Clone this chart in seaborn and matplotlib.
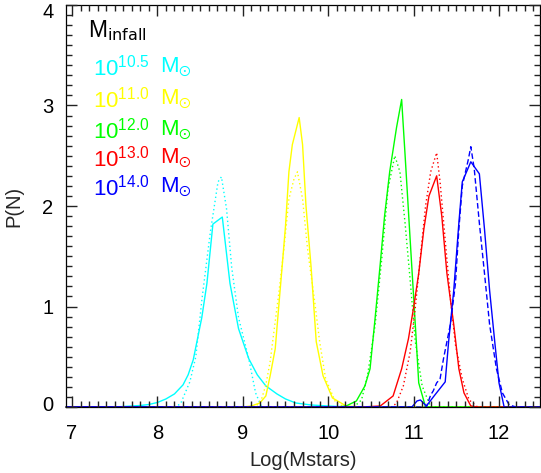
import matplotlib
matplotlib.use("Agg")
import matplotlib.pyplot as plt
from matplotlib.ticker import MultipleLocator
import matplotlib.transforms as mtransforms
import seaborn as sns
import pandas as pd

# ---------------- data ----------------
cyan_solid_x = [6.93, 7.5, 7.6, 7.8, 7.9, 8.0, 8.1, 8.2, 8.3, 8.36, 8.42, 8.52, 8.58, 8.65, 8.76,
                8.85, 8.95, 9.07, 9.17, 9.27, 9.4, 9.5, 9.62, 9.8, 10.0, 10.25, 12.48]
cyan_solid_y = [0, 0, 0.005, 0.015, 0.025, 0.045, 0.08, 0.13, 0.22, 0.32, 0.47, 0.89, 1.23, 1.82, 1.89,
                1.23, 0.78, 0.48, 0.32, 0.21, 0.13, 0.08, 0.04, 0.02, 0.01, 0, 0]
cyan_dot_x = [6.93, 8.2, 8.27, 8.38, 8.45, 8.52, 8.62, 8.71, 8.75, 8.81, 8.87, 8.95, 9.07, 9.15, 9.22, 12.48]
cyan_dot_y = [0, 0, 0.03, 0.25, 0.5, 1.06, 1.74, 2.24, 2.29, 1.97, 1.39, 0.89, 0.48, 0.14, 0, 0]

yellow_solid_x = [6.93, 9.0, 9.1, 9.2, 9.27, 9.32, 9.38, 9.42, 9.46, 9.50, 9.54, 9.58, 9.66, 9.70,
                  9.74, 9.80, 9.86, 9.94, 10.05, 10.21, 10.4, 12.48]
yellow_solid_y = [0, 0, 0.01, 0.04, 0.11, 0.31, 0.58, 0.99, 1.39, 1.80, 2.34, 2.61, 2.88, 2.61,
                  2.0, 1.39, 0.65, 0.31, 0.09, 0.01, 0, 0]
yellow_dot_x = [6.93, 9.15, 9.22, 9.27, 9.32, 9.36, 9.42, 9.48, 9.54, 9.60, 9.64, 9.70, 9.76, 9.84,
                9.90, 9.97, 10.09, 10.2, 12.48]
yellow_dot_y = [0, 0, 0.08, 0.22, 0.45, 0.72, 1.12, 1.56, 2.07, 2.27, 2.34, 2.07, 1.56, 1.06,
                0.65, 0.28, 0.04, 0, 0]

green_solid_x = [6.93, 10.1, 10.21, 10.33, 10.43, 10.49, 10.55, 10.61, 10.66, 10.72, 10.80, 10.86,
                 10.90, 10.96, 11.02, 11.06, 11.14, 12.48]
green_solid_y = [0, 0, 0.01, 0.06, 0.21, 0.38, 0.89, 1.43, 1.90, 2.34, 2.78, 3.06,
                 2.51, 1.66, 0.82, 0.24, 0, 0]
green_dot_x = [6.93, 10.3, 10.39, 10.46, 10.55, 10.63, 10.70, 10.78, 10.84, 10.90, 10.96, 11.02,
               11.10, 11.20, 12.48]
green_dot_y = [0, 0, 0.07, 0.31, 0.82, 1.50, 2.17, 2.50, 2.34, 1.83, 1.26, 0.65, 0.21, 0, 0]

red_solid_x = [6.93, 10.4, 10.61, 10.76, 10.86, 10.94, 11.00, 11.06, 11.12, 11.18, 11.27, 11.33,
               11.39, 11.47, 11.53, 11.59, 11.67, 11.75, 12.48]
red_solid_y = [0, 0, 0.01, 0.11, 0.38, 0.68, 0.99, 1.33, 1.77, 2.10, 2.30, 1.90,
               1.33, 0.82, 0.38, 0.14, 0.01, 0, 0]
red_dot_x = [6.93, 10.75, 10.80, 10.88, 10.96, 11.02, 11.08, 11.14, 11.20, 11.27, 11.31, 11.37,
             11.43, 11.49, 11.57, 11.65, 11.75, 12.48]
red_dot_y = [0, 0, 0.04, 0.21, 0.55, 0.99, 1.50, 2.0, 2.34, 2.53, 2.24, 1.66,
             1.09, 0.62, 0.28, 0.07, 0, 0]

blue_solid_x = [6.93, 10.98, 11.04, 11.08, 11.15, 11.24, 11.37, 11.41, 11.47, 11.53, 11.57, 11.67,
                11.77, 11.83, 11.89, 11.95, 12.00, 12.06, 12.48]
blue_solid_y = [0, 0, 0.06, 0.07, 0.01, 0.11, 0.25, 0.65, 1.16, 1.83, 2.24, 2.44,
                2.32, 1.77, 1.16, 0.65, 0.24, 0, 0]
blue_dash_x = [6.93, 11.15, 11.20, 11.23, 11.27, 11.31, 11.35, 11.43, 11.49, 11.53, 11.57, 11.64,
               11.67, 11.71, 11.77, 11.83, 11.89, 11.97, 12.04, 12.12, 12.2, 12.48]
blue_dash_y = [0, 0, 0.12, 0.16, 0.24, 0.28, 0.48, 0.82, 1.23, 1.77, 2.20, 2.46,
               2.59, 2.37, 1.83, 1.33, 0.82, 0.38, 0.14, 0.02, 0, 0]

legend_labels = ["10.5", "11.0", "12.0", "13.0", "14.0"]
colors = ["#00ffff", "#ffff00", "#00ff00", "#ff0000", "#0000ff"]

x_ticks = [7, 8, 9, 10, 11, 12]
y_ticks = [0, 1, 2, 3, 4]

# ---------------- style ----------------
sns.set_theme(style="white")
plt.rcParams["font.family"] = ["Liberation Sans", "DejaVu Sans"]
plt.rcParams["mathtext.fontset"] = "dejavusans"
plt.rcParams["mathtext.default"] = "regular"

fig = plt.figure(figsize=(5.41, 4.73), dpi=100)
ax = fig.add_axes([66 / 541, 66 / 473, 474 / 541, 402 / 473])

series = [
    (cyan_solid_x, cyan_solid_y, colors[0], "-"),
    (cyan_dot_x, cyan_dot_y, colors[0], (0, (1, 2))),
    (yellow_solid_x, yellow_solid_y, colors[1], "-"),
    (yellow_dot_x, yellow_dot_y, colors[1], (0, (1, 2))),
    (green_solid_x, green_solid_y, colors[2], "-"),
    (green_dot_x, green_dot_y, colors[2], (0, (1, 2))),
    (red_solid_x, red_solid_y, colors[3], "-"),
    (red_dot_x, red_dot_y, colors[3], (0, (1, 2))),
    (blue_solid_x, blue_solid_y, colors[4], "-"),
    (blue_dash_x, blue_dash_y, colors[4], (0, (4, 2))),
]
for xs, ys, c, ls in series:
    df = pd.DataFrame({"x": xs, "y": ys})
    sns.lineplot(data=df, x="x", y="y", color=c, linestyle=ls, linewidth=1.0,
                 estimator=None, sort=False, ax=ax, legend=False, clip_on=False)

ax.set_xlim(6.93, 12.48)
ax.set_ylim(0, 4)
ax.set_xticks(x_ticks)
ax.set_yticks(y_ticks)
ax.xaxis.set_minor_locator(MultipleLocator(0.1))
ax.yaxis.set_minor_locator(MultipleLocator(0.1))
ax.set_axisbelow(False)
for axis in (ax.xaxis, ax.yaxis):
    axis.set_tick_params(which="major", direction="in", length=8, width=1.0,
                         color="#222222", bottom=True, top=True, left=True, right=True)
    axis.set_tick_params(which="minor", direction="in", length=4, width=1.0,
                         color="#222222", bottom=True, top=True, left=True, right=True)
ax.tick_params(axis="x", which="major", pad=12, labelsize=14.5, labelcolor="black")
ax.tick_params(axis="y", which="major", pad=9, labelsize=14.5, labelcolor="black")
for sp in ax.spines.values():
    sp.set_visible(True)
    sp.set_color("black")
    sp.set_linewidth(0.9)

ax.set_xlabel("Log(Mstars)", fontsize=14.5)
ax.set_ylabel("P(N)", fontsize=14.5)
ax.xaxis.set_label_coords(0.5, -0.11)
ax.yaxis.set_label_coords(-0.09, 0.5)

# nudge end y tick labels inward like the reference
yt = ax.yaxis.get_major_ticks()
yt[-1].label1.set_transform(yt[-1].label1.get_transform()
                            + mtransforms.ScaledTranslation(0, -6 / 100, fig.dpi_scale_trans))
yt[0].label1.set_transform(yt[0].label1.get_transform()
                           + mtransforms.ScaledTranslation(0, 4 / 100, fig.dpi_scale_trans))

# legend-like annotations
ax.text(0.046, 0.936, r"M$_{\rm infall}$", transform=ax.transAxes, fontsize=16.5,
        va="center", ha="left", color="black")
row_y = [0.844, 0.765, 0.688, 0.619, 0.547]
for lab, c, yy in zip(legend_labels, colors, row_y):
    ax.text(0.057, yy, r"10$^{%s}$" % lab, transform=ax.transAxes, fontsize=16,
            va="center", ha="left", color=c)
    ax.text(0.198, yy, r"M$_{\odot}$", transform=ax.transAxes, fontsize=16,
            va="center", ha="left", color=c)

fig.savefig("out.png", dpi=100)
